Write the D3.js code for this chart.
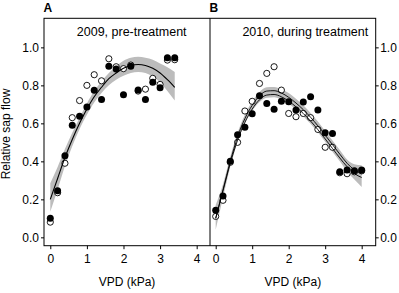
<!DOCTYPE html>
<html>
<head>
<meta charset="utf-8">
<script src="https://cdn.jsdelivr.net/npm/d3@7"></script>
<style>
  body { margin: 0; background: #fff; }
  svg { display: block; font-family: "Liberation Sans", Arial, sans-serif; }
  .tick text { font-size: 12px; fill: #000; }
  .tick line, .domain { stroke: #000; }
</style>
</head>
<body>
<div class="canvas"></div>
<script>
// panel A: 2009, pre-treatment
const vpdA = [0, 0.2, 0.4, 0.6, 0.8, 1.0, 1.2, 1.4, 1.6, 1.8, 2.0, 2.2, 2.4, 2.6, 2.8, 3.0, 3.2, 3.4];
const openA = [0.08, 0.235, 0.39, 0.63, 0.72, 0.80, 0.856, 0.824, 0.94, 0.898, 0.888, 0.907, 0.77, 0.78, 0.837, 0.805, 0.933, 0.935];
const filledA = [0.10, 0.245, 0.43, 0.59, 0.637, 0.686, 0.774, 0.726, 0.90, 0.886, 0.75, 0.90, 0.775, 0.726, 0.816, 0.787, 0.945, 0.945];
const fitA = [0.20, 0.31, 0.42, 0.515, 0.60, 0.675, 0.74, 0.79, 0.835, 0.865, 0.89, 0.905, 0.91, 0.905, 0.89, 0.865, 0.83, 0.79];
const loA = [0.135, 0.25, 0.375, 0.48, 0.57, 0.645, 0.71, 0.76, 0.80, 0.83, 0.85, 0.865, 0.87, 0.865, 0.845, 0.815, 0.77, 0.72];
const hiA = [0.285, 0.37, 0.465, 0.55, 0.63, 0.705, 0.77, 0.82, 0.865, 0.90, 0.93, 0.945, 0.95, 0.945, 0.935, 0.915, 0.895, 0.87];

// panel B: 2010, during treatment
const vpdB = [0, 0.2, 0.4, 0.6, 0.8, 1.0, 1.2, 1.4, 1.6, 1.8, 2.0, 2.2, 2.4, 2.6, 2.8, 3.0, 3.2, 3.4, 3.6, 3.8, 4.0];
const openB = [0.11, 0.195, 0.395, 0.50, 0.665, 0.716, 0.81, 0.863, 0.898, 0.775, 0.652, 0.635, 0.652, 0.63, 0.568, 0.474, 0.474, 0.34, 0.335, 0.345, 0.35];
const filledB = [0.143, 0.217, 0.40, 0.54, 0.58, 0.65, 0.745, 0.705, 0.674, 0.716, 0.714, 0.67, 0.712, 0.74, 0.67, 0.55, 0.547, 0.345, 0.354, 0.35, 0.354];
const fitB1 = [0.10, 0.25, 0.40, 0.53, 0.625, 0.695, 0.745, 0.77, 0.772, 0.76, 0.737, 0.707, 0.672, 0.632, 0.587, 0.538, 0.488, 0.438, 0.39, 0.355, 0.335];
const fitB2 = [0.10, 0.245, 0.39, 0.512, 0.605, 0.675, 0.724, 0.749, 0.752, 0.74, 0.717, 0.687, 0.652, 0.612, 0.567, 0.518, 0.468, 0.418, 0.372, 0.336, 0.315];
const loB = [0.04, 0.21, 0.372, 0.50, 0.60, 0.665, 0.712, 0.735, 0.738, 0.726, 0.703, 0.673, 0.638, 0.598, 0.553, 0.503, 0.45, 0.4, 0.345, 0.305, 0.265];
const hiB = [0.17, 0.28, 0.425, 0.55, 0.645, 0.715, 0.765, 0.79, 0.792, 0.78, 0.76, 0.73, 0.695, 0.655, 0.61, 0.56, 0.51, 0.46, 0.41, 0.385, 0.38];

const xTicks = [0, 1, 2, 3, 4];
const yTicks = [0, 0.2, 0.4, 0.6, 0.8, 1.0];

const width = 399;
const height = 293;
const box = { top: 18.3, bottom: 245.7, left: 44, mid: 210, right: 375.7 };

const svg = d3
  .select(".canvas")
  .append("svg")
  .attr("width", width)
  .attr("height", height);

const y = d3.scaleLinear().domain([-0.044, 1.153]).range([box.bottom, box.top]);

const panels = [
  {
    letter: "A", title: "2009, pre-treatment", titleX: 131.7,
    x: d3.scaleLinear().domain([-0.172, 4.364]).range([box.left, box.mid]),
    vpd: vpdA, open: openA, filled: filledA, fits: [fitA], lo: loA, hi: hiA,
  },
  {
    letter: "B", title: "2010, during treatment", titleX: 305.3,
    x: d3.scaleLinear().domain([-0.156, 4.384]).range([box.mid, box.right]),
    vpd: vpdB, open: openB, filled: filledB, fits: [fitB1, fitB2], lo: loB, hi: hiB,
  },
];

panels.forEach((p) => {
  const g = svg.append("g");
  const band = p.vpd.map((v, i) => ({ v, lo: p.lo[i], hi: p.hi[i] }));

  g.append("path")
    .datum(band)
    .attr("fill", "#bcbcbc")
    .attr(
      "d",
      d3.area()
        .curve(d3.curveMonotoneX)
        .x((d) => p.x(d.v))
        .y0((d) => y(d.lo))
        .y1((d) => y(d.hi))
    );

  g.selectAll(".open")
    .data(p.vpd.map((v, i) => [v, p.open[i]]))
    .enter()
    .append("circle")
    .attr("cx", (d) => p.x(d[0]))
    .attr("cy", (d) => y(d[1]))
    .attr("r", 3.1)
    .attr("fill", "#fff")
    .attr("stroke", "#000")
    .attr("stroke-width", 0.9);

  g.selectAll(".filled")
    .data(p.vpd.map((v, i) => [v, p.filled[i]]))
    .enter()
    .append("circle")
    .attr("cx", (d) => p.x(d[0]))
    .attr("cy", (d) => y(d[1]))
    .attr("r", 3.5)
    .attr("fill", "#000");

  p.fits.forEach((fit) => {
    g.append("path")
      .datum(p.vpd.map((v, i) => [v, fit[i]]))
      .attr("fill", "none")
      .attr("stroke", "#000")
      .attr("stroke-width", p.fits.length > 1 ? 0.9 : 1.1)
      .attr(
        "d",
        d3.line()
          .curve(d3.curveMonotoneX)
          .x((d) => p.x(d[0]))
          .y((d) => y(d[1]))
      );
  });

  svg.append("g")
    .attr("transform", `translate(0, ${box.bottom})`)
    .call(d3.axisBottom(p.x).tickValues(xTicks).tickFormat(d3.format("d")).tickSize(3.5).tickPadding(5))
    .call((a) => a.select(".domain").remove());

  svg.append("text")
    .attr("x", p.titleX)
    .attr("y", 36)
    .attr("text-anchor", "middle")
    .attr("font-size", 12.5)
    .text(p.title);

  svg.append("text")
    .attr("x", p.x.range()[0] - 0.5)
    .attr("y", 12)
    .attr("font-size", 12)
    .attr("font-weight", "bold")
    .text(p.letter);

  svg.append("text")
    .attr("x", (p.x.range()[0] + p.x.range()[1]) / 2)
    .attr("y", 286)
    .attr("text-anchor", "middle")
    .attr("font-size", 12)
    .text("VPD (kPa)");
});

svg.append("g")
  .attr("transform", `translate(${box.left}, 0)`)
  .call(d3.axisLeft(y).tickValues(yTicks).tickFormat(d3.format(".1f")).tickSize(3).tickPadding(2))
  .call((a) => a.select(".domain").remove());

svg.append("g")
  .attr("transform", `translate(${box.right}, 0)`)
  .call(d3.axisRight(y).tickValues(yTicks).tickFormat(d3.format(".1f")).tickSize(3).tickPadding(1.5))
  .call((a) => a.select(".domain").remove());

// frame of both panels
svg.append("rect")
  .attr("x", box.left)
  .attr("y", box.top)
  .attr("width", box.right - box.left)
  .attr("height", box.bottom - box.top)
  .attr("fill", "none")
  .attr("stroke", "#000");

svg.append("line")
  .attr("x1", box.mid)
  .attr("x2", box.mid)
  .attr("y1", box.top)
  .attr("y2", box.bottom)
  .attr("stroke", "#000");

svg.append("text")
  .attr("transform", `translate(10, 134) rotate(-90)`)
  .attr("text-anchor", "middle")
  .attr("font-size", 12)
  .text("Relative sap flow");
</script>
</body>
</html>
